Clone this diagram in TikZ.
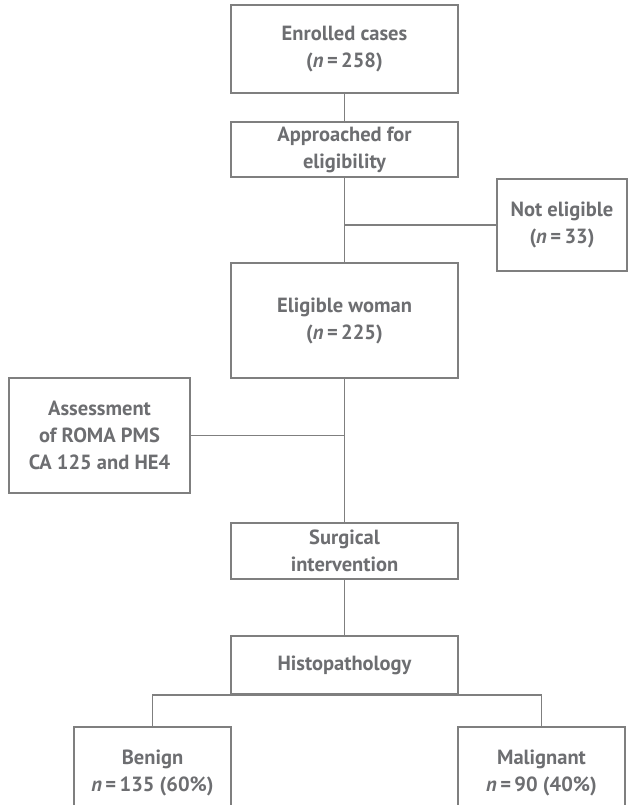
\documentclass[tikz,border=0pt]{standalone}
\usepackage{fontspec}
\setmainfont{PT Sans}
\definecolor{txtgray}{HTML}{6D6E71}
\definecolor{linegray}{HTML}{7F7F7F}
\begin{document}
\begin{tikzpicture}[x=1pt,y=-1pt,
  box/.style={draw=linegray, line width=1.5pt, rectangle, inner sep=0pt, align=center,
    text=txtgray, font=\fontsize{20.5}{27}\selectfont\bfseries},
  conn/.style={draw=linegray, line width=1.5pt}]
\useasboundingbox (0,0) rectangle (629,805);
\clip (0,0) rectangle (629,805);
\fill[white] (0,0) rectangle (629,805);
\node[box, minimum width=227pt, minimum height=88pt] (enr) at (344.5,49) {Enrolled cases\\(\textit{n}\,=\,258)};
\node[box, minimum width=227pt, minimum height=55pt] (appr) at (344.5,149.5) {Approached for\\eligibility};
\node[box, minimum width=130pt, minimum height=92pt] (notel) at (562,225) {Not eligible\\(\textit{n}\,=\,33)};
\node[box, minimum width=227pt, minimum height=115pt] (elig) at (344.5,320.5) {Eligible woman\\(\textit{n}\,=\,225)};
\node[box, minimum width=181pt, minimum height=115pt] (assess) at (99.5,435.5) {Assessment\\of ROMA PMS\\CA 125 and HE4};
\node[box, minimum width=227pt, minimum height=56pt] (surg) at (344.5,551) {Surgical\\intervention};
\node[box, minimum width=227pt, minimum height=58pt] (histo) at (344.5,665) {Histopathology};
\node[box, minimum width=157pt, minimum height=92pt] (benign) at (152.5,773) {Benign\\\textit{n}\,=\,135 (60\%)};
\node[box, minimum width=167pt, minimum height=92pt] (malig) at (541.5,773) {Malignant\\\textit{n}\,=\,90 (40\%)};
\draw[conn] (enr.south) -- (appr.north);
\draw[conn] (appr.south) -- (elig.north);
\draw[conn] (elig.south) -- (surg.north);
\draw[conn] (surg.south) -- (histo.north);
\draw[conn] (notel.west) -- (notel.west -| appr.south);
\draw[conn] (assess.east) -- (assess.east -| elig.south);
\draw[conn] (benign.north) |- (histo.south) -| (malig.north);
\end{tikzpicture}
\end{document}
